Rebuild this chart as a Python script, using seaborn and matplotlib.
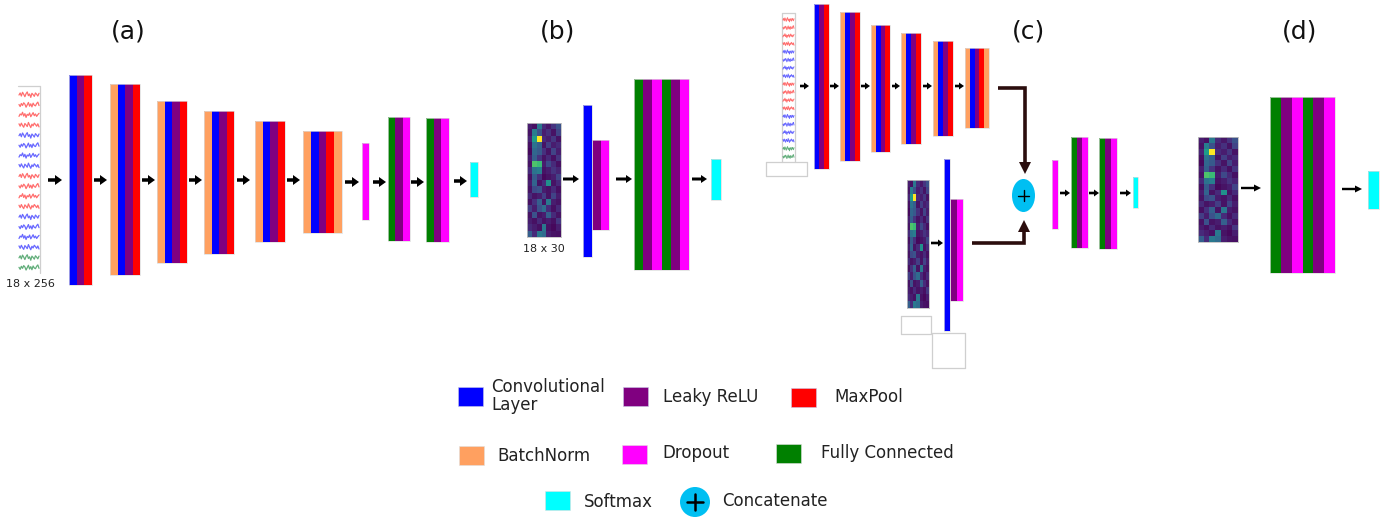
import numpy as np
import matplotlib
matplotlib.use("Agg")
import matplotlib.pyplot as plt
from matplotlib.patches import Rectangle, Ellipse, Polygon, FancyArrow
import seaborn as sns

sns.set_style("white")
plt.rcParams["font.family"] = ["DejaVu Sans"]

W, H = 1393, 517

# ---- layer types and their colours -------------------------------------
layer_names = ["conv", "lrelu", "pool", "bn", "drop", "fc", "soft"]
layer_colors = ["#0000ff", "#800080", "#ff0000", "#ffa060", "#ff00ff", "#008000", "#00ffff"]
COLOR = dict(zip(layer_names, layer_colors))

legend_row1 = ["Convolutional\nLayer", "Leaky ReLU", "MaxPool"]
legend_row2 = ["BatchNorm", "Dropout", "Fully Connected"]
legend_row3 = ["Softmax", "Concatenate"]
panel_titles = ["(a)", "(b)", "(c)", "(d)"]
input_labels = ["18 x 256", "18 x 30"]

# layer compositions of each block
conv_block = ["conv", "lrelu", "pool"]
bn_conv_block = ["bn", "conv", "lrelu", "pool"]
last_conv_block = ["bn", "conv", "lrelu", "pool", "bn"]
fc_block = ["fc", "lrelu", "drop"]
fc_double_block = ["fc", "lrelu", "drop", "fc", "lrelu", "drop"]

# 18 x 7 crop of the spectral feature image
feature_map = np.array([
    [0.08, 0.04, 0.40, 0.12, 0.06, 0.15, 0.25],
    [0.05, 0.42, 0.25, 0.08, 0.14, 0.05, 0.20],
    [0.10, 0.55, 1.00, 0.12, 0.08, 0.16, 0.05],
    [0.04, 0.38, 0.30, 0.05, 0.18, 0.08, 0.12],
    [0.02, 0.33, 0.28, 0.14, 0.05, 0.20, 0.08],
    [0.08, 0.30, 0.15, 0.05, 0.12, 0.04, 0.15],
    [0.05, 0.72, 0.68, 0.08, 0.22, 0.12, 0.04],
    [0.12, 0.38, 0.42, 0.05, 0.08, 0.15, 0.10],
    [0.04, 0.28, 0.14, 0.02, 0.05, 0.08, 0.20],
    [0.08, 0.32, 0.05, 0.12, 0.50, 0.05, 0.12],
    [0.05, 0.22, 0.25, 0.08, 0.05, 0.12, 0.04],
    [0.12, 0.05, 0.08, 0.18, 0.05, 0.20, 0.08],
    [0.04, 0.14, 0.30, 0.05, 0.40, 0.08, 0.05],
    [0.18, 0.08, 0.25, 0.35, 0.12, 0.04, 0.12],
    [0.05, 0.25, 0.05, 0.08, 0.30, 0.12, 0.05],
    [0.08, 0.04, 0.12, 0.05, 0.08, 0.04, 0.16],
    [0.12, 0.08, 0.04, 0.40, 0.05, 0.02, 0.08],
    [0.30, 0.12, 0.40, 0.35, 0.08, 0.05, 0.04],
])

# 18 EEG channels and a few short signal snippets
channel_groups = ["red"] * 4 + ["blue"] * 4 + ["red"] * 4 + ["blue"] * 4 + ["green"] * 2
trace_palette = {"red": "#ff4a4a", "blue": "#4444ff", "green": "#3b9a5a"}
eeg_snippets = [
    [0.0, 0.6, -0.3, 0.8, 0.2, -0.5, 0.4, 0.9, -0.2, 0.3, -0.7, 0.5, 0.1, -0.4, 0.6, 0.2, -0.3, 0.5],
    [0.2, -0.4, 0.5, -0.1, 0.7, 0.3, -0.6, 0.1, 0.8, -0.3, 0.4, -0.5, 0.6, 0.0, -0.2, 0.5, 0.9, -0.1],
    [-0.3, 0.4, 0.1, 0.9, -0.2, 0.5, -0.6, 0.3, 0.0, 0.7, -0.4, 0.2, 0.8, -0.1, 0.4, -0.3, 0.2, 0.6],
    [0.5, -0.2, 0.7, 0.0, -0.5, 0.6, 0.2, -0.3, 0.9, 0.1, -0.6, 0.4, -0.1, 0.7, 0.3, -0.2, 0.5, -0.4],
]

fig = plt.figure(figsize=(W / 100, H / 100), dpi=100)
ax = fig.add_axes([0, 0, 1, 1])
ax.set_xlim(0, W)
ax.set_ylim(H, 0)
ax.set_axis_off()


def stack(layers, x0, x1, y0, y1):
    w = (x1 - x0) / len(layers)
    for i, name in enumerate(layers):
        ax.add_patch(Rectangle((x0 + i * w, y0), w, y1 - y0, fc=COLOR[name], ec="none", zorder=2))
    ax.add_patch(Rectangle((x0, y0), x1 - x0, y1 - y0, fill=False, ec="#dcdcdc", lw=0.5, zorder=3))


def arrow(x0, x1, y, shaft=3.5, hw=10, hl=7):
    ax.add_patch(FancyArrow(x0, y, x1 - x0, 0, width=shaft, head_width=hw, head_length=hl,
                            length_includes_head=True, fc="black", ec="none", zorder=3))


def feature_image(x0, x1, y0, y1):
    axh = fig.add_axes([x0 / W, 1 - y1 / H, (x1 - x0) / W, (y1 - y0) / H])
    sns.heatmap(feature_map, ax=axh, cmap="viridis", vmin=0, vmax=1, cbar=False,
                xticklabels=False, yticklabels=False, antialiased=False, linewidths=0)
    for s in axh.spines.values():
        s.set_visible(True)
        s.set_color("#c0c0c0")
        s.set_linewidth(0.6)


def eeg(x0, x1, y_first, y_last, amp, lw):
    n = len(channel_groups)
    step = (y_last - y_first) / (n - 1)
    for i, grp in enumerate(channel_groups):
        snip = np.array(eeg_snippets[i % len(eeg_snippets)])
        xs = np.linspace(x0 + 1, x1 - 1, len(snip))
        ys = y_first + i * step - amp * snip
        sns.lineplot(x=xs, y=ys, ax=ax, color=trace_palette[grp], lw=lw, alpha=0.8,
                     estimator=None, sort=False)


def box(x0, x1, y0, y1, sides="ltrb"):
    pts = {"l": ([x0, x0], [y0, y1]), "r": ([x1, x1], [y0, y1]),
           "t": ([x0, x1], [y0, y0]), "b": ([x0, x1], [y1, y1])}
    for s in sides:
        ax.plot(*pts[s], color="#cfcfcf", lw=0.9)


# ---- titles ------------------------------------------------------------
for t, x in zip(panel_titles, [128, 558, 1028, 1300]):
    ax.text(x, 31, t, ha="center", va="center", fontsize=18, color="#111111")

# ---- (a) ---------------------------------------------------------------
box(18, 40, 86, 273, sides="tr")
eeg(18, 40, 95, 268, 3.4, 0.9)
ax.text(30, 284, input_labels[0], ha="center", va="center", fontsize=8, color="#222222")
arrow(48, 62, 180)
stack(conv_block, 69, 92, 75, 285)
arrow(94, 107, 180)
stack(bn_conv_block, 110, 140, 84, 275)
arrow(142, 155, 180)
stack(bn_conv_block, 157, 187, 101, 263)
arrow(189, 202, 180)
stack(bn_conv_block, 204, 234, 111, 254)
arrow(237, 250, 180)
stack(bn_conv_block, 255, 285, 121, 242)
arrow(287, 300, 180)
stack(last_conv_block, 303, 342, 131, 233)
arrow(345, 359, 182)
stack(["drop"], 362, 369, 143, 220)
arrow(373, 386, 182)
stack(fc_block, 388, 410, 117, 241)
arrow(411, 424, 182)
stack(fc_block, 426, 449, 118, 242)
arrow(454, 467, 181)
stack(["soft"], 470, 478, 162, 197)

# ---- (b) ---------------------------------------------------------------
feature_image(527, 561, 123, 237)
ax.text(544, 249, input_labels[1], ha="center", va="center", fontsize=8, color="#222222")
arrow(563, 579, 179, shaft=3, hw=8, hl=6)
stack(["conv"], 583, 592, 105, 257)
stack(["lrelu", "drop"], 592, 609, 140, 230)
arrow(616, 632, 179, shaft=3, hw=8, hl=6)
stack(fc_double_block, 634, 689, 79, 270)
arrow(692, 707, 179, shaft=3, hw=8, hl=6)
stack(["soft"], 711, 721, 159, 200)

# ---- (c) ---------------------------------------------------------------
box(782, 795, 13, 162, sides="ltr")
eeg(782, 795, 20, 157, 2.6, 0.7)
box(766, 807, 162, 176)
arrow(800, 809, 86, shaft=2.6, hw=7, hl=5)
stack(conv_block, 814, 829, 4, 169)
arrow(830, 839, 86, shaft=2.6, hw=7, hl=5)
stack(bn_conv_block, 840, 860, 12, 161)
arrow(861, 870, 86, shaft=2.6, hw=7, hl=5)
stack(bn_conv_block, 871, 890, 25, 152)
arrow(892, 900, 86, shaft=2.6, hw=7, hl=5)
stack(bn_conv_block, 901, 921, 33, 144)
arrow(923, 932, 86, shaft=2.6, hw=7, hl=5)
stack(bn_conv_block, 933, 953, 41, 136)
arrow(955, 964, 86, shaft=2.6, hw=7, hl=5)
stack(last_conv_block, 965, 989, 48, 128)

feature_image(907, 929, 180, 308)
box(901, 931, 316, 334)
arrow(931, 943, 243, shaft=2.6, hw=7, hl=5)
stack(["conv"], 944, 950, 159, 331)
stack(["lrelu", "drop"], 950, 963, 199, 301)
box(932, 965, 333, 368)

link = "#2b0d0d"
ax.plot([998, 1025, 1025], [88, 88, 163], color=link, lw=2.6,
        solid_capstyle="butt", solid_joinstyle="miter")
ax.add_patch(Polygon([(1019, 162), (1031, 162), (1025, 174)], closed=True, fc=link, ec="none"))
ax.plot([972, 1024, 1024], [243, 243, 231], color=link, lw=2.6,
        solid_capstyle="butt", solid_joinstyle="miter")
ax.add_patch(Polygon([(1018, 232), (1030, 232), (1024, 220)], closed=True, fc=link, ec="none"))

concat_color = "#00bff2"
ax.add_patch(Ellipse((1023.5, 195.5), 23, 33, fc=concat_color, ec="none", zorder=3))
ax.plot([1018, 1029], [195.5, 195.5], color="black", lw=1.0, zorder=4)
ax.plot([1023.5, 1023.5], [190, 201], color="black", lw=1.0, zorder=4)

stack(["drop"], 1052, 1058, 160, 229)
arrow(1060, 1070, 193, shaft=2.6, hw=7, hl=5)
stack(fc_block, 1071, 1088, 137, 248)
arrow(1089, 1099, 193, shaft=2.6, hw=7, hl=5)
stack(fc_block, 1099, 1117, 138, 249)
arrow(1120, 1131, 193, shaft=2.6, hw=7, hl=5)
stack(["soft"], 1133, 1138, 177, 208)

# ---- (d) ---------------------------------------------------------------
feature_image(1198, 1238, 137, 242)
arrow(1241, 1261, 188, shaft=2.4, hw=7, hl=7)
stack(fc_double_block, 1270, 1335, 97, 273)
arrow(1342, 1362, 189, shaft=2.4, hw=7, hl=7)
stack(["soft"], 1368, 1379, 171, 209)

# ---- legend ------------------------------------------------------------
fs = 12
row1 = [("conv", 458, 387), ("lrelu", 623, 387), ("pool", 791, 388)]
row1_text = [(491, 396), (663, 397), (834, 397)]
for (name, x, y), lab, (tx, ty) in zip(row1, legend_row1, row1_text):
    ax.add_patch(Rectangle((x, y), 25, 19, fc=COLOR[name], ec="#c8c8e8", lw=0.4))
    ax.text(tx, ty, lab, ha="left", va="center", fontsize=fs, color="#222222", linespacing=1.05)

row2 = [("bn", 459, 446), ("drop", 622, 445), ("fc", 776, 444)]
row2_text = [(497, 456), (662, 453), (821, 453)]
for (name, x, y), lab, (tx, ty) in zip(row2, legend_row2, row2_text):
    ax.add_patch(Rectangle((x, y), 25, 19, fc=COLOR[name], ec="#e0e0e0", lw=0.4))
    ax.text(tx, ty, lab, ha="left", va="center", fontsize=fs, color="#222222")

ax.add_patch(Rectangle((545, 491), 25, 19, fc=COLOR["soft"], ec="#e0e0e0", lw=0.4))
ax.text(584, 502, legend_row3[0], ha="left", va="center", fontsize=fs, color="#222222")
ax.add_patch(Ellipse((695, 502), 30, 30, fc=concat_color, ec="none"))
ax.plot([687, 703], [502, 502], color="black", lw=1.8)
ax.plot([695, 695], [494, 510], color="black", lw=1.8)
ax.text(722, 501, legend_row3[1], ha="left", va="center", fontsize=fs, color="#222222")

fig.savefig("out.png", dpi=100, facecolor="white")
